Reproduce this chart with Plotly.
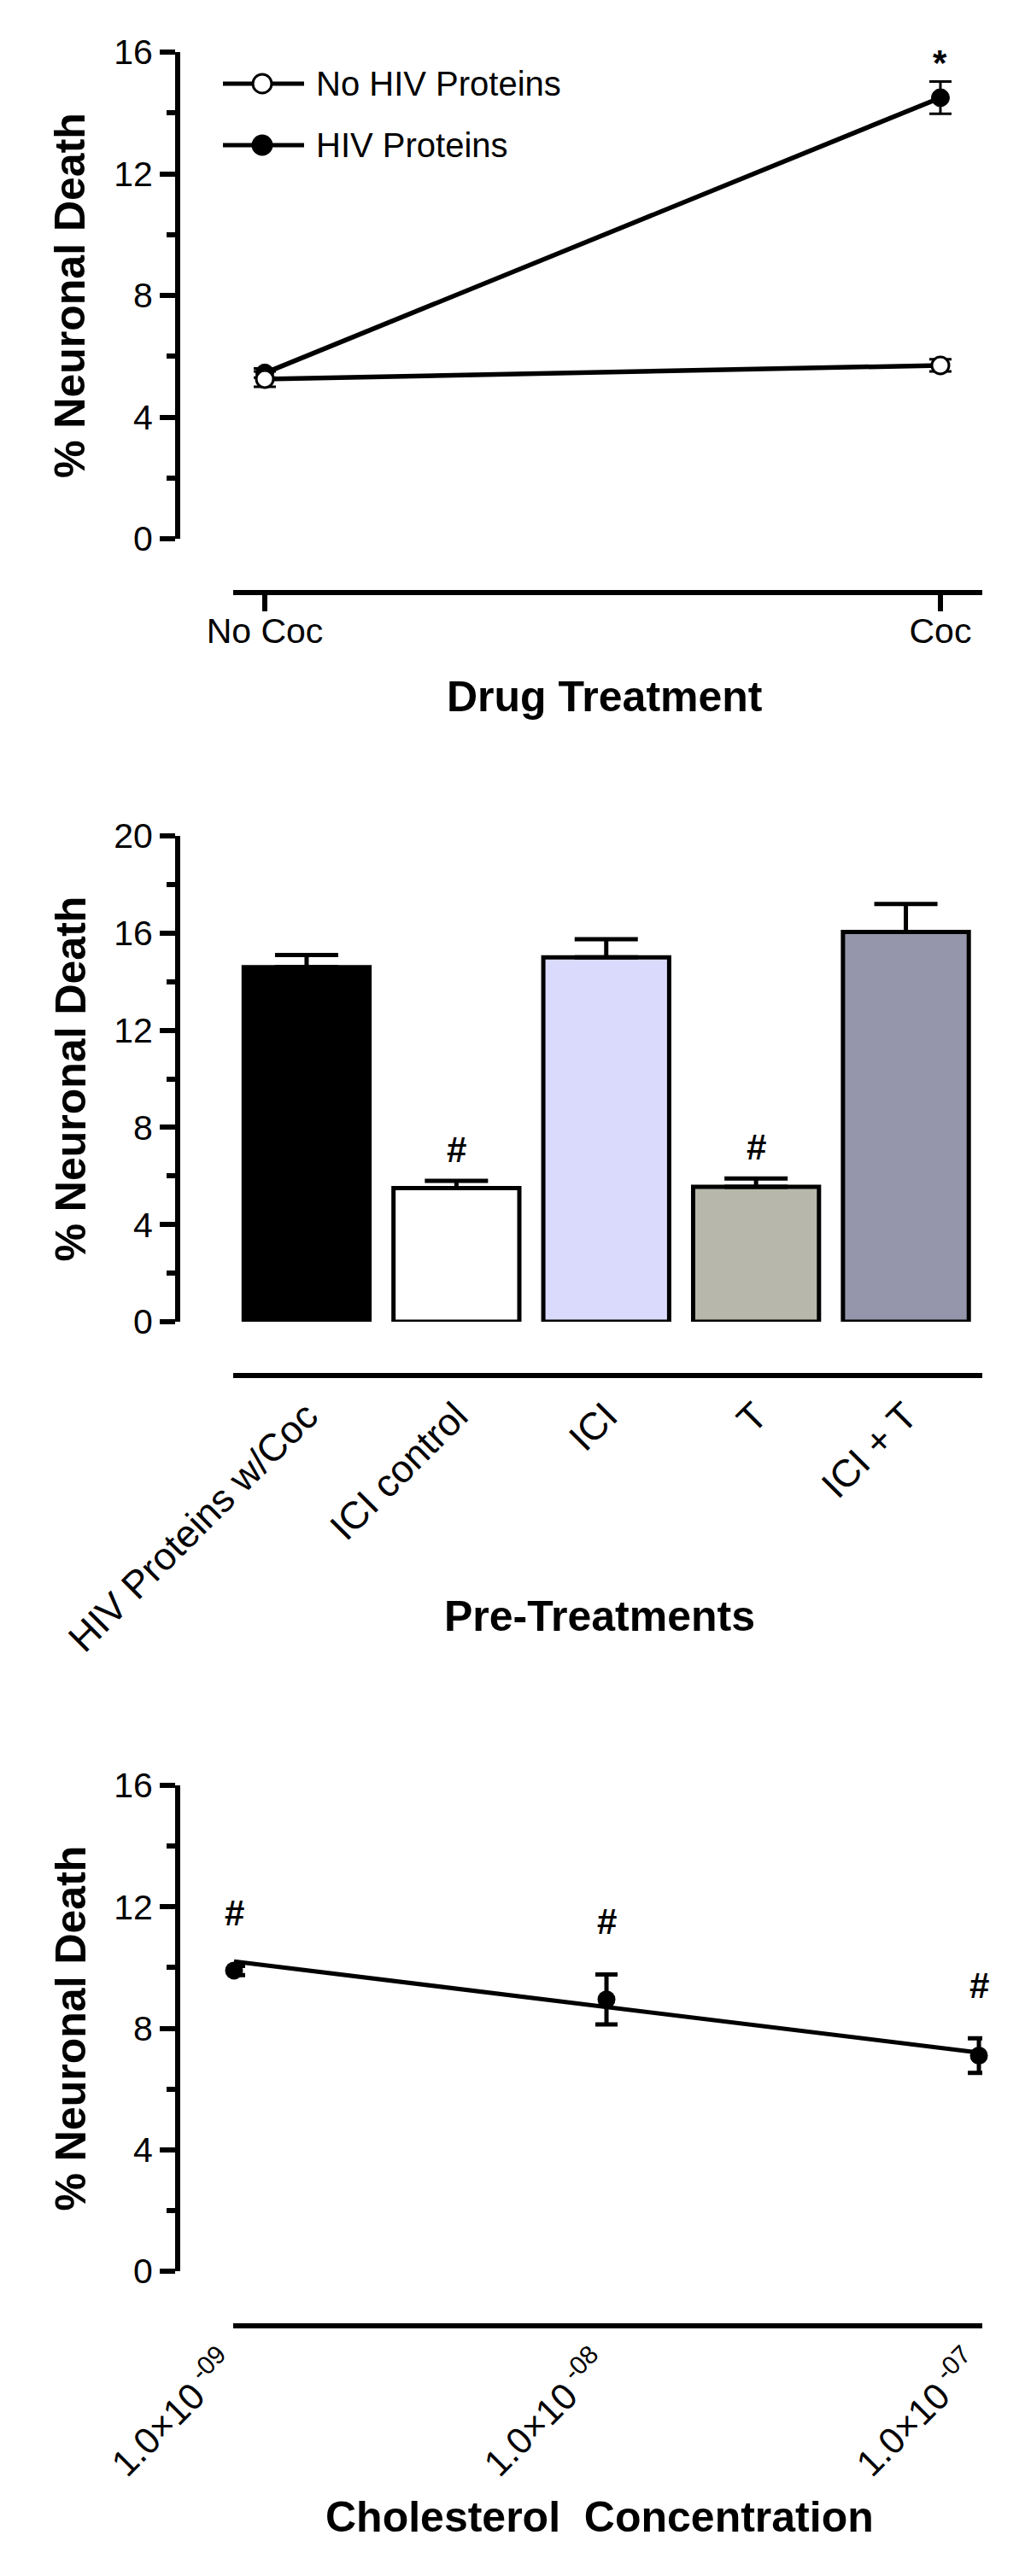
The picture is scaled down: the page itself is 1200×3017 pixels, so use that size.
import math
import plotly.graph_objects as go

# ---------------- data ----------------
drug_categories = ["No Coc", "Coc"]
no_hiv_mean = [5.25, 5.7]
no_hiv_sem = [0.25, 0.2]
hiv_mean = [5.45, 14.5]
hiv_sem = [0.15, 0.53]
drug_sig = ["", "*"]

pre_categories = ["HIV Proteins w/Coc", "ICI control", "ICI", "T", "ICI + T"]
pre_mean = [14.6, 5.5, 15.0, 5.55, 16.05]
pre_sem = [0.5, 0.3, 0.75, 0.35, 1.15]
pre_sig = ["", "#", "", "#", ""]
pre_colors = ["#000000", "#ffffff", "#dadafc", "#b7b7ab", "#9595ab"]

chol_conc = [1e-9, 1e-8, 1e-7]
chol_mean = [9.9, 8.95, 7.1]
chol_sem = [0.15, 0.82, 0.57]
chol_sig = ["#", "#", "#"]
chol_fit_x = [1e-9, 1e-7]
chol_fit_y = [10.2, 7.2]
chol_tick_text = ["1.0×10<sup> -09</sup>", "1.0×10<sup> -08</sup>", "1.0×10<sup> -07</sup>"]

# ---------------- layout helpers ----------------
W, H = 1200, 3017
FONT = "Liberation Sans, Arial, sans-serif"


def fx(p):
    return p / W


def fy(p):
    return 1 - p / H


fig = go.Figure()

# ---------- top panel ----------
fig.add_trace(go.Scatter(
    x=[0, 1], y=hiv_mean, mode="lines+markers", name="HIV Proteins",
    line=dict(color="black", width=5.5),
    marker=dict(size=21, color="black", line=dict(color="black", width=1)),
    error_y=dict(type="data", array=hiv_sem, color="black", thickness=3, width=13),
    xaxis="x", yaxis="y", cliponaxis=False, showlegend=False))
fig.add_trace(go.Scatter(
    x=[0, 1], y=no_hiv_mean, mode="lines+markers", name="No HIV Proteins",
    line=dict(color="black", width=5.5),
    marker=dict(size=20, color="white", line=dict(color="black", width=3)),
    error_y=dict(type="data", array=no_hiv_sem, color="black", thickness=3, width=13),
    xaxis="x", yaxis="y", cliponaxis=False, showlegend=False))

# ---------- middle panel ----------
fig.add_trace(go.Bar(
    x=list(range(len(pre_categories))), y=pre_mean, width=0.84,
    marker=dict(color=pre_colors, line=dict(color="black", width=5)),
    error_y=dict(type="data", symmetric=False, array=pre_sem, arrayminus=[0] * len(pre_sem),
                 color="black", thickness=5, width=37),
    xaxis="x2", yaxis="y2", showlegend=False))

# ---------- bottom panel ----------
fig.add_trace(go.Scatter(
    x=chol_fit_x, y=chol_fit_y, mode="lines", line=dict(color="black", width=5),
    xaxis="x3", yaxis="y3", cliponaxis=False, showlegend=False))
fig.add_trace(go.Scatter(
    x=chol_conc, y=chol_mean, mode="markers",
    marker=dict(size=21, color="black"),
    error_y=dict(type="data", array=chol_sem, color="black", thickness=5, width=13),
    xaxis="x3", yaxis="y3", cliponaxis=False, showlegend=False))

tickfont = dict(family=FONT, size=41, color="black")

yax_common = dict(anchor="free", position=fx(200), showline=True, linecolor="black", linewidth=6,
                  ticks="outside", ticklen=18, tickwidth=6, tickcolor="black", tickfont=tickfont,
                  showgrid=False, zeroline=False, dtick=4, tick0=0,
                  minor=dict(ticks="outside", ticklen=10, tickwidth=6, tickcolor="black", dtick=2, tick0=0))

xdom = [fx(265), fx(1142)]

fig.update_layout(
    width=W, height=H, margin=dict(l=0, r=0, t=0, b=0, pad=0, autoexpand=False),
    paper_bgcolor="white", plot_bgcolor="white",
    font=dict(family=FONT, color="black"),
    # top
    xaxis=dict(domain=xdom, anchor="free", position=fy(686), range=[-0.0468, 1.062],
               tickvals=[0, 1], ticktext=drug_categories, showline=True, linecolor="black",
               linewidth=6, ticks="outside", ticklen=19, tickwidth=6, tickcolor="black",
               tickfont=tickfont, ticklabelstandoff=-12, showgrid=False, zeroline=False),
    yaxis=dict(domain=[fy(623), fy(53)], range=[0, 16], **yax_common),
    # middle
    xaxis2=dict(domain=xdom, anchor="free", position=fy(1603), range=[-0.49, 4.51],
                tickvals=list(range(len(pre_categories))), ticktext=pre_categories, tickangle=-45,
                showline=True, linecolor="black", linewidth=6, ticks="",
                tickfont=dict(family=FONT, size=45, color="black"),
                showgrid=False, zeroline=False),
    yaxis2=dict(domain=[fy(1540), fy(971)], range=[0, 20], **yax_common),
    # bottom
    xaxis3=dict(domain=xdom, anchor="free", position=fy(2716), type="log", range=[-9.0023, -6.9909],
                tickvals=chol_conc, ticktext=chol_tick_text, tickangle=-45,
                showline=True, linecolor="black", linewidth=6, ticks="",
                tickfont=dict(family=FONT, size=43, color="black"), ticklabelshift=-10,
                showgrid=False, zeroline=False),
    yaxis3=dict(domain=[fy(2652), fy(2083)], range=[0, 16], **yax_common),
)

ann = []
title_font = dict(family=FONT, size=50, color="black", weight="bold")
for yc in [(53 + 623) / 2, (971 + 1540) / 2, (2083 + 2652) / 2]:
    ann.append(dict(text="% Neuronal Death", x=fx(74), y=fy(yc), xref="paper", yref="paper",
                    textangle=-90, showarrow=False, font=title_font, xanchor="center", yanchor="middle"))
ann.append(dict(text="Drug Treatment", x=fx(700), y=fy(808), xref="paper", yref="paper",
                showarrow=False, font=title_font, xanchor="center", yanchor="middle"))
ann.append(dict(text="Pre-Treatments", x=fx(694), y=fy(1885), xref="paper", yref="paper",
                showarrow=False, font=title_font, xanchor="center", yanchor="middle"))
ann.append(dict(text="Cholesterol\u00a0 Concentration", x=fx(694), y=fy(2940), xref="paper", yref="paper",
                showarrow=False, font=title_font, xanchor="center", yanchor="middle"))

sig_font = dict(family=FONT, size=42, color="black", weight="bold")
for i, s in enumerate(drug_sig):
    if s:
        ann.append(dict(text=s, x=i, y=hiv_mean[i] + hiv_sem[i] - 0.1, xref="x", yref="y",
                        showarrow=False, font=sig_font, yanchor="bottom"))
for i, s in enumerate(pre_sig):
    if s:
        ann.append(dict(text=s, x=i, y=pre_mean[i] + pre_sem[i] + 1.3, xref="x2", yref="y2",
                        showarrow=False, font=sig_font, yanchor="middle"))
for i, s in enumerate(chol_sig):
    if s:
        ann.append(dict(text=s, x=math.log10(chol_conc[i]), y=chol_mean[i] + chol_sem[i] + 1.75,
                        xref="x3", yref="y3", showarrow=False, font=sig_font, yanchor="middle"))

# legend (top panel)
legend_rows = [("No HIV Proteins", "white", 90), ("HIV Proteins", "black", 162)]
shapes = []
for label, fill, yp in legend_rows:
    shapes.append(dict(type="line", xref="paper", yref="paper", x0=fx(253), x1=fx(348),
                       y0=fy(yp), y1=fy(yp), line=dict(color="black", width=5)))
    shapes.append(dict(type="circle", xref="paper", yref="paper", x0=fx(288), x1=fx(310),
                       y0=fy(yp + 11), y1=fy(yp - 11), fillcolor=fill, line=dict(color="black", width=3)))
    ann.append(dict(text=label, x=fx(360), y=fy(yp), xref="paper", yref="paper", showarrow=False,
                    font=dict(family=FONT, size=40, color="black"), xanchor="left", yanchor="middle"))

fig.update_layout(annotations=ann, shapes=shapes)
fig.write_html("out.html")
